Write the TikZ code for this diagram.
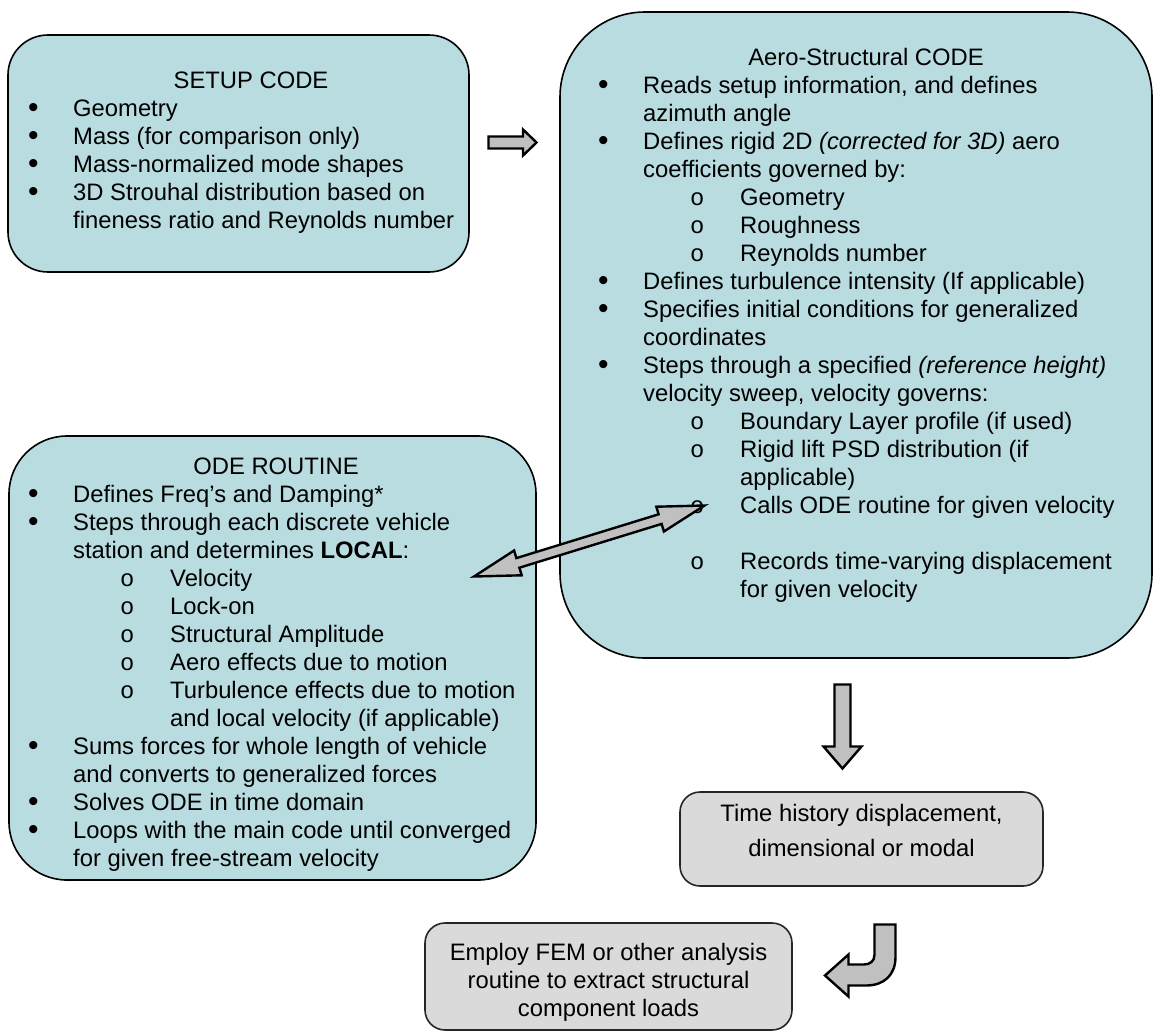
\documentclass[tikz,border=0pt]{standalone}
\usepackage{fontspec}
\setmainfont{Liberation Sans}
\newfontfamily\monofnt{Liberation Mono}
\definecolor{boxblue}{HTML}{B9DCE0}
\definecolor{boxgray}{HTML}{DADADA}
\definecolor{arrowgray}{HTML}{C0C0C0}
\newcommand\bulI{\makebox[45pt][l]{\raisebox{-1pt}{\fontsize{30}{28}\selectfont\textbullet}}}
\newcommand\contI{\hspace*{45pt}}
\newcommand\bulII{\hspace*{92pt}\makebox[50pt][l]{\monofnt o}}
\newcommand\contII{\hspace*{142pt}}
\tikzset{
  bluebox/.style={draw=black, line width=1.6pt, fill=boxblue, inner sep=0pt},
  graybox/.style={draw=black!85, line width=1.6pt, fill=boxgray, inner sep=0pt, rounded corners=20pt},
  body/.style={font=\fontsize{23.8}{28}\selectfont, inner sep=0pt, align=left, anchor=north west},
  title/.style={font=\fontsize{23.8}{28}\selectfont, inner sep=0pt, anchor=base},
  ctext/.style={inner sep=0pt, align=center, anchor=north},
  blockarrow/.style={draw=black, line width=2.4pt, fill=arrowgray, line join=miter}
}
\begin{document}
\begin{tikzpicture}[x=1pt,y=-1pt]
\useasboundingbox (0,0) rectangle (1154,1034);
% boxes
\node[bluebox, rounded corners=40pt, minimum width=461pt, minimum height=237pt] (setup) at (238.5,153.5) {};
\node[bluebox, rounded corners=85pt, minimum width=592pt, minimum height=646pt] (aero) at (856,335) {};
\node[bluebox, rounded corners=58pt, minimum width=527pt, minimum height=444pt] (ode) at (272.5,658) {};
\node[graybox, minimum width=363pt, minimum height=94pt] (hist) at (861.5,839) {};
\node[graybox, minimum width=367pt, minimum height=107pt] (fem) at (608.5,976.5) {};
% setup text
\node[title] (setupT) at (251,88) {SETUP CODE};
\node[body] (setupB) at (28,96.4) {\strut\bulI Geometry\\
\bulI Mass (for comparison only)\\
\bulI Mass-normalized mode shapes\\
\bulI 3D Strouhal distribution based on\\
\contI fineness ratio and Reynolds number};
% aero text
\node[title] (aeroT) at (866,65) {Aero-Structural CODE};
\node[body] (aeroB) at (598,73.4) {\strut\bulI Reads setup information, and defines\\
\contI azimuth angle\\
\bulI Defines rigid 2D \textit{(corrected for 3D)} aero\\
\contI coefficients governed by:\\
\bulII Geometry\\
\bulII Roughness\\
\bulII Reynolds number\\
\bulI Defines turbulence intensity (If applicable)\\
\bulI Specifies initial conditions for generalized\\
\contI coordinates\\
\bulI Steps through a specified \textit{(reference height)}\\
\contI velocity sweep, velocity governs:\\
\bulII Boundary Layer profile (if used)\\
\bulII Rigid lift PSD distribution (if\\
\contII applicable)\\
\bulII Calls ODE routine for given velocity\\
\strut\\
\bulII Records time-varying displacement\\
\contII for given velocity};
% ode text
\node[title] (odeT) at (276,474) {ODE ROUTINE};
\node[body] (odeB) at (28,482.4) {\strut\bulI Defines Freq’s and Damping*\\
\bulI Steps through each discrete vehicle\\
\contI station and determines \textbf{LOCAL}:\\
\bulII Velocity\\
\bulII Lock-on\\
\bulII Structural Amplitude\\
\bulII Aero effects due to motion\\
\bulII Turbulence effects due to motion\\
\contII and local velocity (if applicable)\\
\bulI Sums forces for whole length of vehicle\\
\contI and converts to generalized forces\\
\bulI Solves ODE in time domain\\
\bulI Loops with the main code until converged\\
\contI for given free-stream velocity};
% gray box texts
\node[ctext, font=\fontsize{23.8}{35}\selectfont] (histT) at (861.5,796.5) {\strut Time history displacement,\\dimensional or modal};
\node[ctext, font=\fontsize{23.8}{28}\selectfont] (femT) at (608.5,940.4) {\strut Employ FEM or other analysis\\routine to extract structural\\component loads};
% block arrows
\draw[blockarrow] (488.5,136.5) -- (523,136.5) -- (523,129.5) -- (536.5,142.5) -- (523,155.5) -- (523,148.5) -- (488.5,148.5) -- cycle;
\draw[blockarrow] (474,576.5) -- (521.7,575.3) -- (519.4,567.7) -- (661.6,523.9) -- (663.9,531.5) -- (704.5,505.5)
  -- (656.3,506.7) -- (658.6,514.3) -- (516.4,558.1) -- (514.1,550.5) -- cycle;
\draw[blockarrow] (834.5,684.5) -- (850.5,684.5) -- (850.5,746.5) -- (861.5,746.5) -- (842.5,768.5) -- (823.5,746.5) -- (834.5,746.5) -- cycle;
\draw[blockarrow] (874.5,924.5) -- (895.5,924.5) -- (895.5,957) .. controls (895.5,975) and (884,985.5) .. (866,985.5)
  -- (848.5,985.5) -- (848.5,996.5) -- (825,975.5) -- (848.5,954.5) -- (848.5,964.5) -- (864,964.5)
  .. controls (870,964.5) and (874.5,961) .. (874.5,955) -- cycle;
\end{tikzpicture}
\end{document}
